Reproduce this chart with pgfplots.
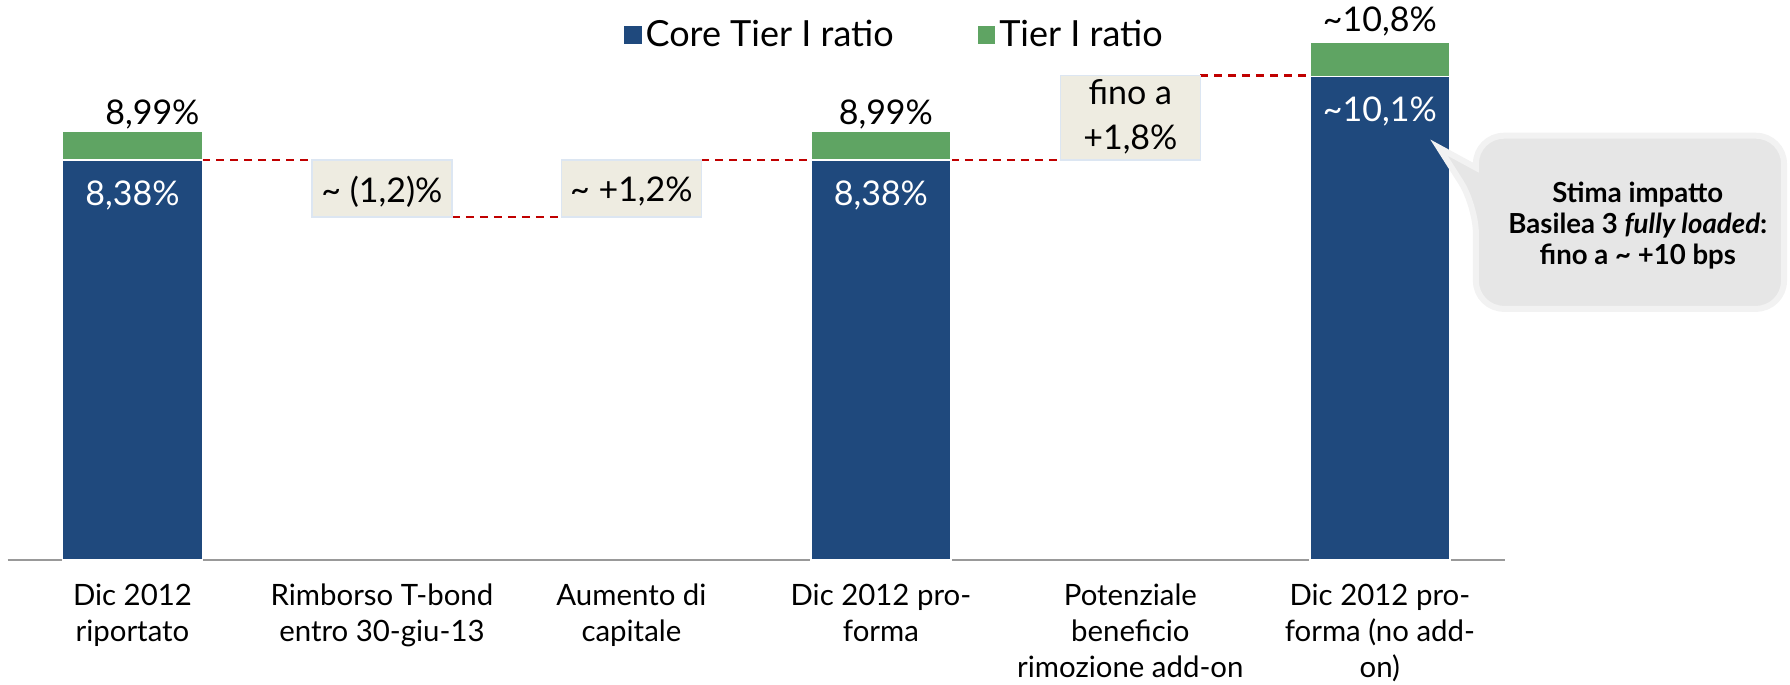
\documentclass[border=0pt]{standalone}
\usepackage{fontspec}
\setmainfont{Lato}
\usepackage{pgfplots}
\pgfplotsset{compat=1.18}

\definecolor{ctblue}{HTML}{1F497D}
\definecolor{tgreen}{HTML}{5FA463}
\definecolor{deltabox}{HTML}{EEECE1}
\definecolor{boxedge}{HTML}{DCE6F2}
\definecolor{bridge}{HTML}{C00000}
\definecolor{callfill}{HTML}{E6E6E6}
\definecolor{calledge}{HTML}{F2F2F2}

\newcommand{\lbl}{\fontsize{17}{22.5}\selectfont}

\begin{document}
\begin{tikzpicture}
\begin{axis}[
    ybar stacked,
    width=748.5pt, height=279.5pt, scale only axis,
    bar width=70pt,
    xmin=-0.5, xmax=5.5, ymin=0, ymax=11.72,
    clip=false,
    axis x line=bottom, axis y line=none,
    axis line style={draw=black!40, line width=1.2pt, -},
    xtick={0,...,5},
    xticklabels={{Dic 2012\\riportato},{Rimborso T-bond\\entro 30-giu-13},{Aumento di\\capitale},{Dic 2012 pro-\\forma},{Potenziale\\beneficio\\rimozione add-on},{Dic 2012 pro-\\forma (no add-\\on)}},
    major tick length=0pt,
    xticklabel style={align=center, font=\fontsize{14.7}{18}\selectfont, inner sep=0pt, yshift=-12pt},
    legend columns=2,
    legend style={at={(0.593,0.939)}, anchor=center, draw=none, fill=none,
        font=\fontsize{18}{21}\selectfont,
        /tikz/every even column/.append style={column sep=40pt}},
]
% invisible base of the floating boxes
\addplot[fill=none, draw=none, forget plot] coordinates {(0,0) (1,7.18) (2,7.18) (3,0) (4,8.38) (5,0)};
\addplot[fill=ctblue, draw=white, line width=0.8pt,
    legend image code/.code={\fill[ctblue] (0pt,-4pt) rectangle (8pt,4pt);}]
    coordinates {(0,8.38) (1,0) (2,0) (3,8.38) (4,0) (5,10.13)};
\addlegendentry{Core Tier I ratio}
\addplot[fill=deltabox, draw=boxedge, line width=0.8pt, forget plot]
    coordinates {(0,0) (1,1.20) (2,1.20) (3,0) (4,1.77) (5,0)};
\addplot[fill=tgreen, draw=white, line width=0.8pt,
    legend image code/.code={\fill[tgreen] (0pt,-4pt) rectangle (8pt,4pt);}]
    coordinates {(0,0.61) (1,0) (2,0) (3,0.61) (4,0) (5,0.72)};
\addlegendentry{Tier I ratio}

% bridge lines
\addplot[stack plots=false, sharp plot, bridge, line width=1.2pt, dash pattern=on 4pt off 3pt, forget plot] coordinates {(0.28,8.38) (0.72,8.38)};
\addplot[stack plots=false, sharp plot, bridge, line width=1.2pt, dash pattern=on 4pt off 3pt, forget plot] coordinates {(1.28,7.18) (1.72,7.18)};
\addplot[stack plots=false, sharp plot, bridge, line width=1.2pt, dash pattern=on 4pt off 3pt, forget plot] coordinates {(2.28,8.38) (2.72,8.38)};
\addplot[stack plots=false, sharp plot, bridge, line width=1.2pt, dash pattern=on 4pt off 3pt, forget plot] coordinates {(3.28,8.38) (3.72,8.38)};
\addplot[stack plots=false, sharp plot, bridge, line width=1.2pt, dash pattern=on 4pt off 3pt, forget plot] coordinates {(4.28,10.15) (4.72,10.15)};

% anchor points for labels, drawn after the axis
\coordinate (l1) at (axis cs:0.08,9.33);
\coordinate (l2) at (axis cs:0,7.63);
\coordinate (l3) at (axis cs:1,7.72);
\coordinate (l4) at (axis cs:2,7.72);
\coordinate (l5) at (axis cs:3.02,9.33);
\coordinate (l6) at (axis cs:3,7.63);
\coordinate (l7) at (axis cs:4,9.28);
\coordinate (l8) at (axis cs:5,9.39);
\coordinate (l9) at (axis cs:5,11.29);
\coordinate (c0) at (axis cs:5.385,7.42);
\coordinate (c1) at (axis cs:5.237,8.64);
\coordinate (c2) at (axis cs:5.385,8.22);
\coordinate (c3) at (axis cs:5.385,8.89);
\coordinate (c4) at (axis cs:6.62,8.89);
\coordinate (c5) at (axis cs:6.62,5.26);
\coordinate (c6) at (axis cs:5.385,5.26);
\coordinate (ct) at (axis cs:6.034,7.0);

\path (axis cs:-0.531,11.72) rectangle (axis cs:6.644,-2.621);
\end{axis}

\node[font=\lbl] at (l1) {8,99\%};
\node[font=\lbl, text=white] at (l2) {8,38\%};
\node[font=\lbl] at (l3) {\textasciitilde\ (1,2)\%};
\node[font=\lbl] at (l4) {\textasciitilde\ +1,2\%};
\node[font=\lbl] at (l5) {8,99\%};
\node[font=\lbl, text=white] at (l6) {8,38\%};
\node[font=\lbl, align=center] at (l7) {fino a\\+1,8\%};
\node[font=\lbl, text=white] at (l8) {\textasciitilde 10,1\%};
\node[font=\lbl] at (l9) {\textasciitilde 10,8\%};

% callout
\filldraw[fill=callfill, draw=calledge, line width=3pt]
    (c0) [sharp corners] -- (c1) -- (c2)
    [rounded corners=14pt] -- (c3) -- (c4) -- (c5) -- (c6) -- cycle;
\node[align=center, font=\fontsize{13.8}{15.5}\selectfont\bfseries] at (ct)
    {Stima impatto\\Basilea 3 \textit{fully loaded}:\\fino a \textasciitilde{} +10 bps};
\end{tikzpicture}
\end{document}
